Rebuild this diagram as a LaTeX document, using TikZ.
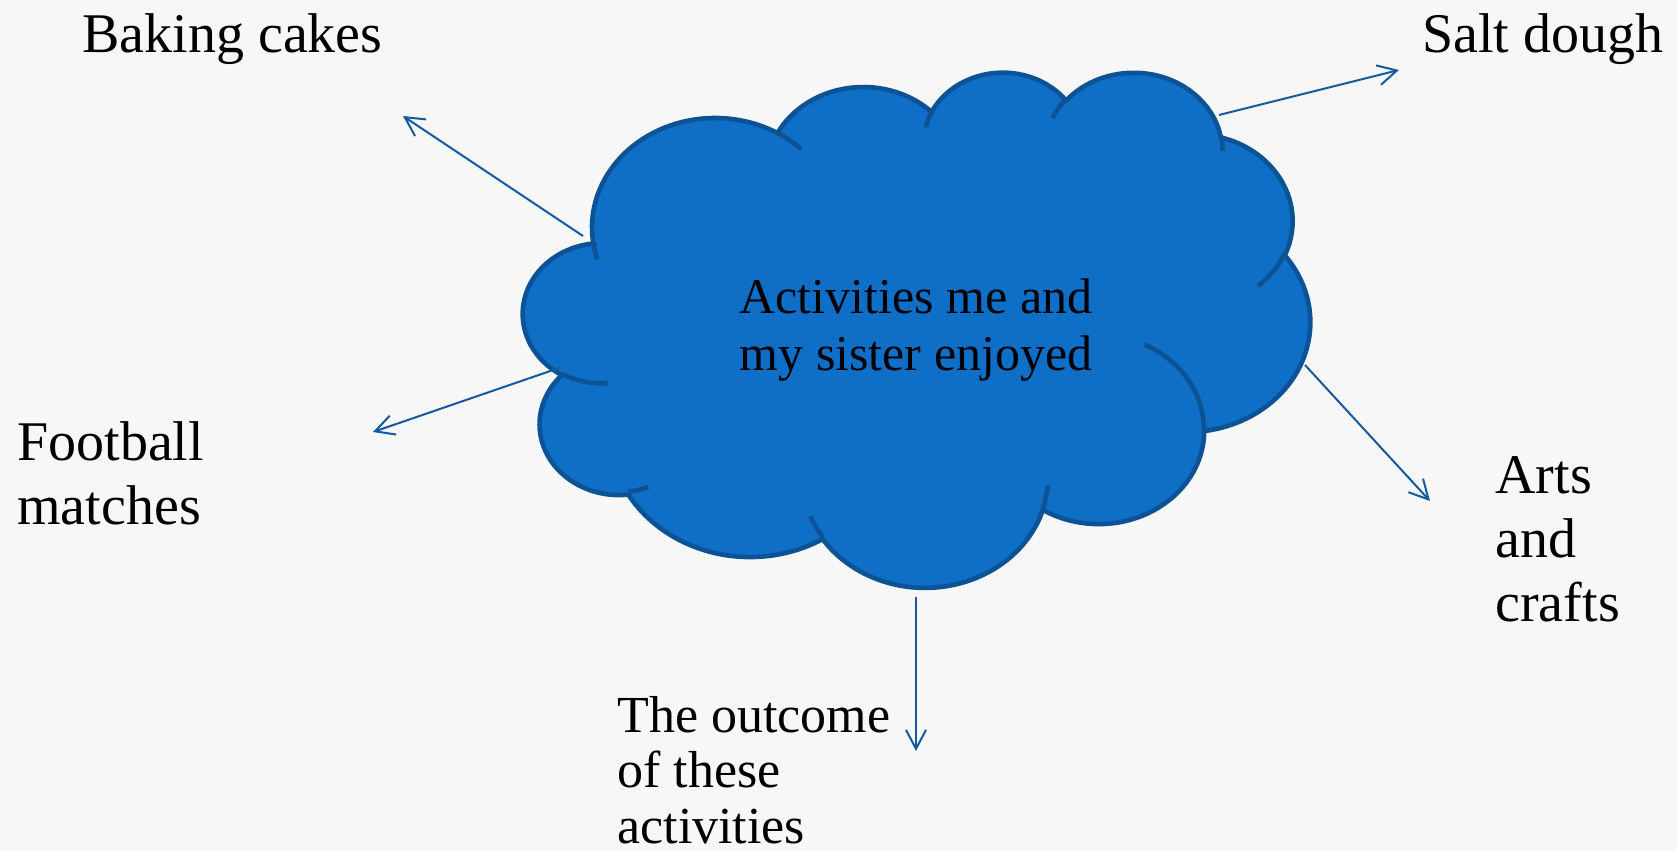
\documentclass[tikz,border=0pt]{standalone}
\usepackage{fontspec}
\setmainfont{Liberation Serif}
\usetikzlibrary{arrows.meta}
\definecolor{cloudfill}{HTML}{0F6EC6}
\definecolor{cloudline}{HTML}{0B5394}
\definecolor{arrowc}{HTML}{155A9E}
\definecolor{bgc}{HTML}{F7F7F7}
\begin{document}
\begin{tikzpicture}[x=0.5pt,y=-0.5pt,
  lbl/.style={anchor=base west, inner sep=0pt, font=\fontsize{28}{32}\selectfont},
  lbltight/.style={anchor=base west, inner sep=0pt, font=\fontsize{26}{27.75}\selectfont},
  maintext/.style={anchor=base, inner sep=0pt, font=\fontsize{25}{28.5}\selectfont},
  conn/.style={draw=arrowc, line width=1pt, -{Straight Barb[length=9.5pt,width=10pt]}},
  cloudshape/.style={fill=cloudfill, draw=cloudline, line width=2.3pt},
  cloudinner/.style={draw=cloudline, line width=2.3pt},
  carc/.style n args={4}{insert path={arc[x radius=#1, y radius=#2,
      start angle={atan2(#1*sin(#3),#2*cos(#3))},
      delta angle={atan2(#1*sin(#3+#4),#2*cos(#3+#4)) - atan2(#1*sin(#3),#2*cos(#3))
        + 360*round((#4 - (atan2(#1*sin(#3+#4),#2*cos(#3+#4)) - atan2(#1*sin(#3),#2*cos(#3))))/360)}]}}
]
\fill[bgc] (0,0) rectangle (1677,851);
\useasboundingbox (0,0) rectangle (1677,851);

% cloud
\begin{scope}[shift={(522,71)}, x=0.912037pt, y=-0.596065pt]
  \path[cloudshape] (39.00,143.70)
    [carc={67.53}{91.90}{-190.4875}{123.7805}]
    [carc={53.33}{72.67}{-144.1024}{89.9452}]
    [carc={43.65}{59.45}{-145.8079}{99.7230}]
    [carc={48.57}{65.95}{-130.9861}{117.2417}]
    [carc={53.33}{72.73}{-78.7089}{109.0269}]
    [carc={67.75}{92.20}{-46.2673}{130.2690}]
    [carc={57.85}{78.67}{0.6250}{114.0333}]
    [carc={67.52}{92.15}{22.4516}{115.1726}]
    [carc={77.20}{105.43}{66.2426}{75.2749}]
    [carc={43.60}{59.36}{-274.9421}{147.7294}]
    [carc={43.45}{59.45}{-246.8285}{152.5253}]
    -- cycle;
  \path[cloudinner]
    (46.93,261.77) [carc={43.45}{59.45}{86.7420}{26.4295}]
    (69.28,348.99) [carc={43.60}{59.36}{73.6105}{11.4475}]
    (164.78,390.90) [carc={67.52}{92.15}{137.6242}{14.0811}]
    (288.27,347.51) [carc={67.52}{92.15}{6.4533}{15.9984}]
    (341.29,229.54) [carc={57.85}{78.67}{-70.2924}{70.9174}]
    (417.98,153.54) [carc={53.33}{72.73}{30.3180}{27.7515}]
    (383.24,54.26) [carc={48.57}{65.95}{-13.7443}{14.8589}]
    (290.78,39.52) [carc={48.57}{65.95}{-149.1815}{18.1954}]
    (221.41,47.20) [carc={43.65}{59.45}{-163.4943}{17.6864}]
    (140.00,51.92) [carc={67.53}{91.90}{-66.7070}{12.3194}]
    (41.27,157.89) [carc={67.53}{91.90}{157.6544}{11.8582}];
\end{scope}

\node[maintext] (main) at (916,313) {\begin{tabular}[t]{@{}c@{}}Activities me and\\my sister enjoyed\end{tabular}};

% labels
\node[lbl] (baking) at (82,52) {Baking cakes};
\node[lbl] (salt) at (1422,53) {Salt dough};
\node[lbl] (football) at (17,460) {\vtop{\hbox{Football}\hbox{matches}}};
\node[lbl] (arts) at (1495,493) {\vtop{\hbox{Arts}\hbox{and}\hbox{crafts}}};
\node[lbltight] (outcome) at (617,732) {\vtop{\hbox{The outcome}\hbox{of these}\hbox{activities}}};

% connectors
\coordinate (bakingtail) at (583,236);
\coordinate (bakingtip) at (403,116);
\coordinate (salttail) at (1219,115);
\coordinate (salttip) at (1399,70);
\coordinate (footballtail) at (559,368);
\coordinate (footballtip) at (373,432);
\coordinate (artstail) at (1305,365);
\coordinate (artstip) at (1430,501);
\coordinate (outcometail) at (916,597);
\coordinate (outcometip) at (916,751);
\draw[conn] (bakingtail) -- (bakingtip);
\draw[conn] (salttail) -- (salttip);
\draw[conn] (footballtail) -- (footballtip);
\draw[conn] (artstail) -- (artstip);
\draw[conn] (outcometail) -- (outcometip);
\end{tikzpicture}
\end{document}
